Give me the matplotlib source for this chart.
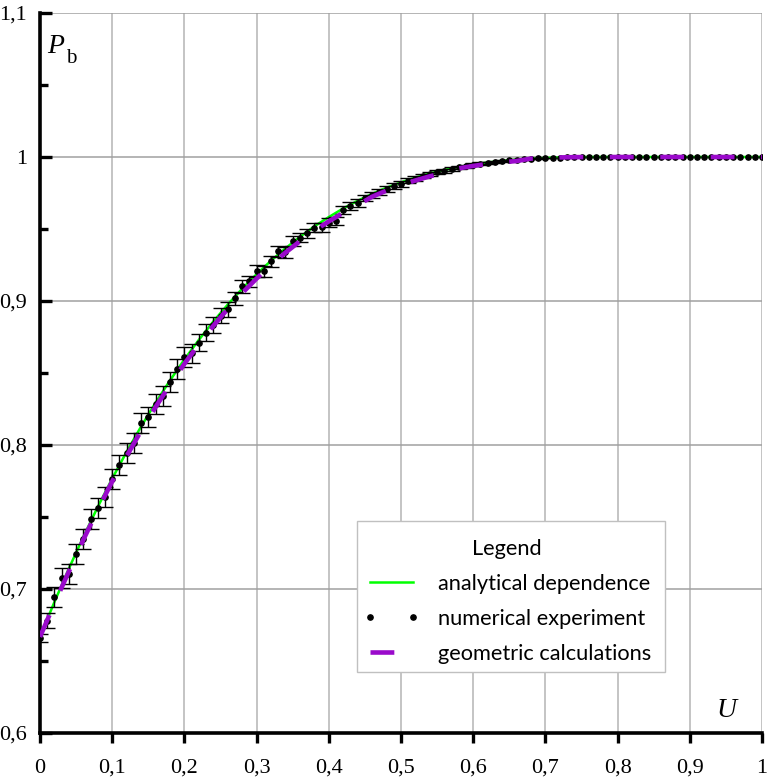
import numpy as np
import matplotlib
matplotlib.use("Agg")
import matplotlib.pyplot as plt
from matplotlib.lines import Line2D
from matplotlib.patches import Rectangle

# ---------------- data ----------------
u_analytic = [0.00, 0.02, 0.04, 0.06, 0.08, 0.10, 0.12, 0.14, 0.16, 0.18,
              0.20, 0.22, 0.24, 0.26, 0.28, 0.30, 0.32, 0.34, 0.36, 0.38,
              0.40, 0.42, 0.44, 0.46, 0.48, 0.50, 0.52, 0.54, 0.56, 0.58,
              0.60, 0.62, 0.64, 0.66, 0.68, 0.70, 0.72, 0.74, 0.76, 0.78,
              0.80, 0.90, 1.00]
p_analytic = [0.6667, 0.6910, 0.7142, 0.7362, 0.7570, 0.7767, 0.7953, 0.8128, 0.8293, 0.8448,
              0.8594, 0.8730, 0.8857, 0.8975, 0.9085, 0.9186, 0.9280, 0.9366, 0.9445, 0.9518,
              0.9583, 0.9643, 0.9696, 0.9744, 0.9787, 0.9824, 0.9857, 0.9886, 0.9910, 0.9931,
              0.9948, 0.9962, 0.9973, 0.9982, 0.9989, 0.9993, 0.9997, 0.9999, 1.0000, 1.0000,
              1.0000, 1.0000, 1.0000]

u_geom = u_analytic
p_geom = [0.6667, 0.6900, 0.7122, 0.7342, 0.7550, 0.7747, 0.7923, 0.8098, 0.8263, 0.8418,
          0.8564, 0.8700, 0.8827, 0.8945, 0.9055, 0.9156, 0.9250, 0.9336, 0.9415, 0.9488,
          0.9553, 0.9613, 0.9666, 0.9724, 0.9767, 0.9804, 0.9837, 0.9866, 0.9890, 0.9921,
          0.9938, 0.9952, 0.9963, 0.9972, 0.9989, 0.9993, 0.9997, 0.9999, 1.0000, 1.0000,
          1.0000, 1.0000, 1.0000]

u_num = [round(0.01 * i, 2) for i in range(101)]
p_num = [0.6660, 0.6780, 0.6945, 0.7075, 0.7105, 0.7243, 0.7345, 0.7484, 0.7560, 0.7641,
         0.7766, 0.7859, 0.7945, 0.8012, 0.8150, 0.8197, 0.8285, 0.8340, 0.8440, 0.8530,
         0.8609, 0.8637, 0.8710, 0.8780, 0.8831, 0.8898, 0.8942, 0.9020, 0.9104, 0.9137,
         0.9210, 0.9206, 0.9275, 0.9347, 0.9338, 0.9414, 0.9440, 0.9470, 0.9510, 0.9512,
         0.9544, 0.9558, 0.9630, 0.9660, 0.9680, 0.9715, 0.9735, 0.9755, 0.9780, 0.9800,
         0.9815, 0.9835, 0.9850, 0.9868, 0.9880, 0.9893, 0.9905, 0.9918, 0.9928, 0.9937,
         0.9945, 0.9953, 0.9960, 0.9966, 0.9972, 0.9976, 0.9980, 0.9984, 0.9987, 0.9990,
         0.9992, 0.9994, 0.9996, 0.9997, 0.9998, 0.9999, 1.0000, 1.0000, 1.0000, 1.0000,
         1.0000, 1.0000, 1.0000, 1.0000, 1.0000, 1.0000, 1.0000, 1.0000, 1.0000, 1.0000,
         1.0000, 1.0000, 1.0000, 1.0000, 1.0000, 1.0000, 1.0000, 1.0000, 1.0000, 1.0000,
         1.0000]
err_num = [0.003, 0.005, 0.007, 0.007, 0.007, 0.007, 0.007, 0.007, 0.007, 0.007,
           0.007, 0.007, 0.007, 0.007, 0.007, 0.007, 0.007, 0.007, 0.007, 0.007,
           0.007, 0.0065, 0.006, 0.006, 0.0055, 0.005, 0.005, 0.0045, 0.0045, 0.004,
           0.004, 0.004, 0.004, 0.0038, 0.0036, 0.0035, 0.0033, 0.0032, 0.003, 0.003,
           0.003, 0.0028, 0.0027, 0.0026, 0.0025, 0.0024, 0.0022, 0.0021, 0.002, 0.002,
           0.002, 0.0018, 0.0017, 0.0016, 0.0015, 0.0014, 0.0013, 0.0012, 0.0011, 0.001,
           0.001, 0.0009, 0.0008, 0.0007, 0.0006, 0.0005, 0.0004, 0.0003, 0.0003, 0.0002,
           0.0002, 0, 0, 0, 0, 0, 0, 0, 0, 0,
           0, 0, 0, 0, 0, 0, 0, 0, 0, 0,
           0, 0, 0, 0, 0, 0, 0, 0, 0, 0,
           0]

x_ticks = [0, 0.1, 0.2, 0.3, 0.4, 0.5, 0.6, 0.7, 0.8, 0.9, 1.0]
x_ticklabels = ["0", "0,1", "0,2", "0,3", "0,4", "0,5", "0,6", "0,7", "0,8", "0,9", "1"]
y_ticks = [0.6, 0.7, 0.8, 0.9, 1.0, 1.1]
y_ticklabels = ["0,6", "0,7", "0,8", "0,9", "1", "1,1"]
y_minor = [0.65, 0.75, 0.85, 0.95, 1.05]

legend_title = "Legend"
labels = ["analytical dependence", "numerical experiment", "geometric calculations"]

GREEN = "#00ff00"
PURPLE = "#9a0acb"

# ---------------- figure ----------------
W, H = 774, 783
fig = plt.figure(figsize=(W / 100, H / 100), dpi=100)
ax = fig.add_axes([40 / W, 1 - 733 / H, (762 - 40) / W, (733 - 13) / H])
ax.set_xlim(0, 1)
ax.set_ylim(0.6, 1.1)

# grid
for xv in x_ticks[1:]:
    ax.axvline(xv, color="#b4b4b4", lw=1.1, zorder=0.5)
for yv in y_ticks[1:]:
    ax.axhline(yv, color="#a0a0a0", lw=1.1, zorder=0.5)

# analytical
ax.plot(u_analytic, p_analytic, color=GREEN, lw=1.8, zorder=2)

# numerical experiment with error bars
u_arr = np.array(u_num)
p_arr = np.array(p_num)
e_arr = np.array(err_num)
m = e_arr > 0
ax.errorbar(u_arr[m], p_arr[m], yerr=e_arr[m], fmt="none", ecolor="black",
            elinewidth=1.0, capsize=6, capthick=1.0, zorder=3)
ax.plot(u_arr, p_arr, ls="none", marker="o", ms=3.8, color="black", zorder=3.5)

# geometric
ax.plot(u_geom, p_geom, color=PURPLE, lw=3.3, dashes=(5.2, 5.8), zorder=4,
        dash_capstyle="butt")

# spines
for s in ["top", "right"]:
    ax.spines[s].set_visible(False)
for s in ["left", "bottom"]:
    ax.spines[s].set_linewidth(2.6)
    ax.spines[s].set_color("black")

serif = ["Liberation Serif", "DejaVu Serif"]
ax.set_xticks(x_ticks)
ax.set_xticklabels(x_ticklabels, fontfamily=serif, fontsize=16)
ax.set_yticks(y_ticks)
ax.set_yticklabels(y_ticklabels, fontfamily=serif, fontsize=16)
ax.set_yticks(y_minor, minor=True)
ax.tick_params(axis="x", direction="out", length=7.5, width=2.4, pad=11, color="black")
ax.tick_params(axis="y", which="major", direction="in", length=8.5, width=2.4, pad=9.5)
ax.tick_params(axis="y", which="minor", direction="in", length=5.5, width=2.4)

# axis labels
ax.text(0.0097, 1.0722, "P", fontfamily=serif, fontstyle="italic", fontsize=20,
        ha="left", va="baseline")
ax.text(0.0355, 1.0653, "b", fontfamily=serif, fontsize=15, ha="left", va="baseline")
ax.text(0.937, 0.6111, "U", fontfamily=serif, fontstyle="italic", fontsize=20,
        ha="left", va="baseline")

# legend frame (drawn separately) and legend content
frame = Rectangle((357 / W, 1 - 672 / H), (665 - 357) / W, (672 - 521) / H,
                  transform=fig.transFigure, facecolor="white", edgecolor="#c0c0c0",
                  lw=1.0, zorder=9, clip_on=False)
ax.add_patch(frame)

FS = 15.7
h1 = Line2D([], [], color=GREEN, lw=1.8)
h2 = Line2D([], [], ls="none", marker="o", ms=3.8, color="black")
h3 = Line2D([], [], color=PURPLE, lw=3.3, dashes=(5.2, 5.8), dash_capstyle="butt")
leg = ax.legend([h1, h2, h3], labels, title=legend_title, loc="upper left",
                bbox_to_anchor=(351 / W, 1 - 527 / H), bbox_transform=fig.transFigure,
                borderaxespad=0, numpoints=2, handlelength=2.6, handletextpad=0.82,
                borderpad=0.55, labelspacing=0.69, frameon=False,
                prop={"family": ["Lato", "DejaVu Sans"], "size": FS},
                title_fontproperties={"family": ["Lato", "DejaVu Sans"], "size": FS})
leg.set_zorder(10)

fig.savefig("out.png", dpi=100)
